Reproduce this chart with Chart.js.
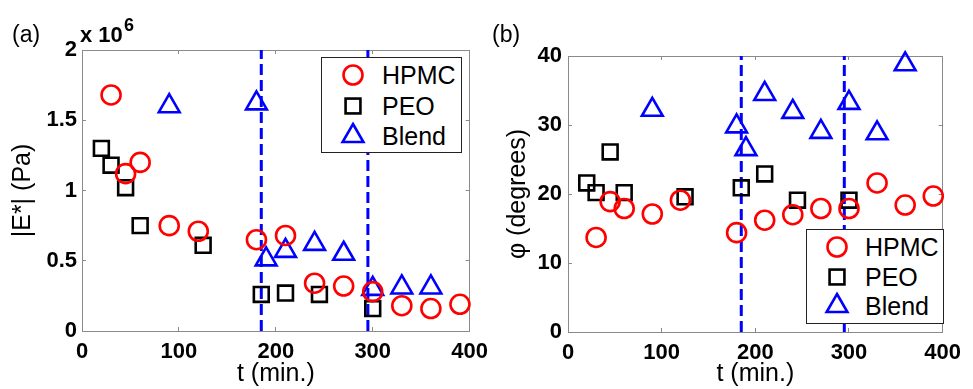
<!DOCTYPE html>
<html>
<head>
<meta charset="utf-8">
<script src="https://cdn.jsdelivr.net/npm/chart.js@4.4.1/dist/chart.umd.min.js"></script>
<style>
  html, body { margin: 0; padding: 0; background: #fff; }
  body { width: 973px; height: 389px; position: relative; overflow: hidden;
         font-family: "Liberation Sans", Arial, Helvetica, sans-serif; color: #000; }
  .panel { position: absolute; top: 0; height: 389px; }
  .txt { position: absolute; white-space: nowrap; }
  .legend { position: absolute; box-sizing: border-box; border: 1px solid #222; background: #fff; }
  .legend .row { position: absolute; left: 0; height: 26px; width: 100%; }
  .legend svg { position: absolute; overflow: visible; }
  .legend span { position: absolute; font-size: 25px; line-height: 26px; top: 0; }
</style>
</head>
<body>
<div class="panel" style="left:0;width:500px"><canvas id="chartA" width="500" height="389"></canvas></div>
<div class="panel" style="left:480px;width:493px"><canvas id="chartB" width="493" height="389"></canvas></div>

<div class="txt" style="left:12px;top:23px;font-size:23px;line-height:23px">(a)</div>
<div class="txt" style="left:492px;top:23px;font-size:23px;line-height:23px">(b)</div>
<div class="txt" style="left:80px;top:24px;font-size:22px;line-height:22px;font-weight:bold">x 10</div>
<div class="txt" style="left:124px;top:16px;font-size:18px;line-height:18px;font-weight:bold">6</div>

<div id="legendA" class="legend" style="left:321px;top:57px;width:141px;height:96px"></div>
<div id="legendB" class="legend" style="left:806px;top:229px;width:138px;height:95px"></div>

<script>
// Sampling times (min) for each material
const hpmcTimes  = [30, 45, 60, 90, 120, 180, 210, 240, 270, 300, 330, 360, 390];
const peoTimes   = [20, 30, 45, 60, 125, 185, 210, 245, 300];
const blendTimes = [90, 180, 190, 210, 240, 270, 300, 330, 360];

// (a) complex modulus magnitude |E*|, in units of 10^6 Pa
const hpmcModulus  = [1.68, 1.12, 1.20, 0.75, 0.71, 0.65, 0.68, 0.34, 0.32, 0.28, 0.18, 0.16, 0.19];
const peoModulus   = [1.30, 1.18, 1.02, 0.75, 0.61, 0.26, 0.27, 0.26, 0.16];
const blendModulus = [1.60, 1.62, 0.51, 0.57, 0.62, 0.55, 0.30, 0.31, 0.31];

// (b) phase angle phi, degrees
const hpmcPhase  = [13.7, 18.9, 17.9, 17.1, 19.1, 14.4, 16.2, 17.0, 17.9, 17.9, 21.6, 18.4, 19.7];
const peoPhase   = [21.6, 20.2, 26.1, 20.2, 19.6, 20.9, 22.9, 19.1, 19.1];
const blendPhase = [32.2, 29.8, 26.5, 34.5, 31.9, 29.0, 33.2, 28.8, 38.8];

// Times marked by vertical dashed lines (min)
const markerTimes = [185, 295];

// Axis tick values
const timeTicks    = [0, 100, 200, 300, 400];
const modulusTicks = [0, 0.5, 1, 1.5, 2];
const phaseTicks   = [0, 10, 20, 30, 40];

const seriesNames = ['HPMC', 'PEO', 'Blend'];

const FONT = '"Liberation Sans", Arial, Helvetica, sans-serif';
const FRAME = '#8a8a8a';
const styles = [
  { color: '#ff0000', pointStyle: 'circle',   radius: 9.5,  width: 2.6 },
  { color: '#000000', pointStyle: 'rect',     radius: 10.5, width: 2.6 },
  { color: '#0000ff', pointStyle: 'triangle', radius: 12,   width: 2.6 }
];

function pairs(xs, ys) { return xs.map((x, i) => ({ x: x, y: ys[i] })); }

function buildPanel(canvas, opt) {
  const series = [
    pairs(hpmcTimes, opt.values[0]),
    pairs(peoTimes, opt.values[1]),
    pairs(blendTimes, opt.values[2])
  ];
  const datasets = series.map((data, i) => ({
    type: 'scatter',
    label: seriesNames[i],
    data: data,
    pointStyle: styles[i].pointStyle,
    pointRadius: styles[i].radius,
    pointHoverRadius: styles[i].radius,
    pointBorderWidth: styles[i].width,
    borderColor: styles[i].color,
    backgroundColor: 'rgba(0,0,0,0)',
    clip: false
  }));
  markerTimes.forEach(t => {
    datasets.push({
      type: 'line',
      label: 't = ' + t,
      data: [{ x: t, y: opt.yTicks[0] }, { x: t, y: opt.yTicks[opt.yTicks.length - 1] }],
      borderColor: '#0000ff',
      borderWidth: 3,
      borderDash: [11, 5],
      pointRadius: 0,
      fill: false,
      clip: false
    });
  });

  const tickFont = { family: FONT, size: 22, weight: 'bold' };
  const titleFont = { family: FONT, size: 25, weight: 'normal' };
  const frameGrid = { drawOnChartArea: false, drawTicks: true, tickLength: -4, color: FRAME, lineWidth: 1 };
  const frameBorder = { display: true, color: FRAME, width: 1 };
  const setTicks = arr => (s => { s.ticks = arr.map(v => ({ value: v })); });

  return new Chart(canvas, {
    data: { datasets: datasets },
    options: {
      responsive: false,
      animation: false,
      events: [],
      layout: { padding: { left: 0, top: opt.top, right: opt.right, bottom: 0 } },
      plugins: { legend: { display: false }, tooltip: { enabled: false } },
      scales: {
        x: {
          type: 'linear', position: 'bottom', min: 0, max: 400,
          afterBuildTicks: setTicks(timeTicks),
          ticks: { font: tickFont, color: '#000', padding: 12, maxRotation: 0, callback: v => String(v) },
          grid: frameGrid, border: frameBorder,
          title: { display: true, text: 't (min.)', font: titleFont, color: '#000', padding: { top: 0, bottom: 0 } },
          afterFit: s => { s.height = opt.xHeight; }
        },
        y: {
          type: 'linear', position: 'left', min: opt.yTicks[0], max: opt.yTicks[opt.yTicks.length - 1],
          afterBuildTicks: setTicks(opt.yTicks),
          ticks: { font: tickFont, color: '#000', padding: opt.yPad, callback: v => String(v) },
          grid: frameGrid, border: frameBorder,
          title: { display: true, text: opt.yTitle, font: titleFont, color: '#000', padding: { top: opt.yTitlePad, bottom: 0 } },
          afterFit: s => { s.width = opt.yWidth; }
        },
        xTop: {
          type: 'linear', position: 'top', min: 0, max: 400,
          afterBuildTicks: setTicks(timeTicks),
          ticks: { display: false },
          grid: frameGrid, border: frameBorder,
          afterFit: s => { s.height = 0; }
        },
        yRight: {
          type: 'linear', position: 'right', min: opt.yTicks[0], max: opt.yTicks[opt.yTicks.length - 1],
          afterBuildTicks: setTicks(opt.yTicks),
          ticks: { display: false },
          grid: frameGrid, border: frameBorder,
          afterFit: s => { s.width = 0; }
        }
      }
    }
  });
}

buildPanel(document.getElementById('chartA'), {
  values: [hpmcModulus, peoModulus, blendModulus],
  yTicks: modulusTicks, yTitle: '|E*| (Pa)',
  top: 50, right: 30, xHeight: 58, yWidth: 82, yPad: 9, yTitlePad: 8
});
buildPanel(document.getElementById('chartB'), {
  values: [hpmcPhase, peoPhase, blendPhase],
  yTicks: phaseTicks, yTitle: 'φ (degrees)',
  top: 56, right: 21, xHeight: 57, yWidth: 88, yPad: 10, yTitlePad: 23
});

// Legend boxes built from the series styles
function markerSvg(style) {
  const ns = 'http://www.w3.org/2000/svg';
  const svg = document.createElementNS(ns, 'svg');
  svg.setAttribute('width', '30'); svg.setAttribute('height', '30');
  let shape;
  if (style.pointStyle === 'circle') {
    shape = document.createElementNS(ns, 'circle');
    shape.setAttribute('cx', 15); shape.setAttribute('cy', 15); shape.setAttribute('r', style.radius);
  } else if (style.pointStyle === 'rect') {
    const h = style.radius * Math.SQRT1_2;
    shape = document.createElementNS(ns, 'rect');
    shape.setAttribute('x', 15 - h); shape.setAttribute('y', 15 - h);
    shape.setAttribute('width', 2 * h); shape.setAttribute('height', 2 * h);
  } else {
    const r = style.radius, s = r * Math.sin(Math.PI / 3);
    shape = document.createElementNS(ns, 'polygon');
    shape.setAttribute('points', `15,${15 - r} ${15 + s},${15 + r / 2} ${15 - s},${15 + r / 2}`);
  }
  shape.setAttribute('fill', 'none');
  shape.setAttribute('stroke', style.color);
  shape.setAttribute('stroke-width', style.width);
  svg.appendChild(shape);
  return svg;
}

function buildLegend(el, markerX, textX, firstRow, rowGap) {
  seriesNames.forEach((name, i) => {
    const row = document.createElement('div');
    row.className = 'row';
    const cy = firstRow + i * rowGap;
    row.style.top = (cy - 13) + 'px';
    const svg = markerSvg(styles[i]);
    svg.style.left = (markerX - 15) + 'px';
    svg.style.top = '-2px';
    row.appendChild(svg);
    const label = document.createElement('span');
    label.textContent = name;
    label.style.left = textX + 'px';
    row.appendChild(label);
    el.appendChild(row);
  });
}
buildLegend(document.getElementById('legendA'), 31, 60, 17, 30.5);
buildLegend(document.getElementById('legendB'), 30, 58, 17, 29.5);
</script>
</body>
</html>
